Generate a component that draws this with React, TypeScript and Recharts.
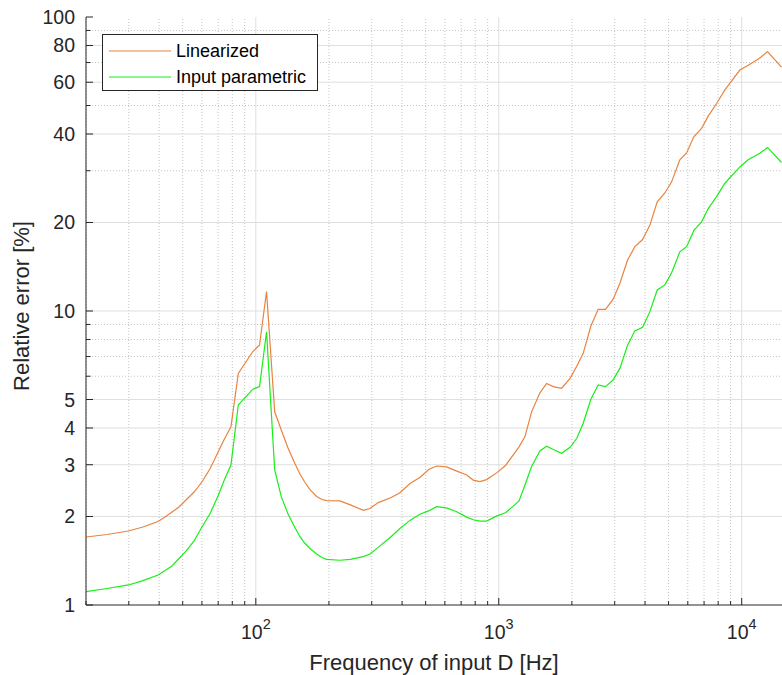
import {
  Legend,
  Line,
  LineChart,
  ReferenceLine,
  XAxis,
  YAxis,
} from "recharts";

const freqs = [
  20, 24.4, 29.9, 34.3, 39.6, 42.3, 45.2, 48.3, 51.6, 55.7, 60, 64.7, 69.9,
  73.9, 79, 84.7, 97.2, 103.6, 110.7, 119.6, 127.3, 135.7, 144.5, 152, 158.9,
  167.1, 178, 187.2, 195.8, 222, 245, 277, 295, 319, 361, 392, 431, 475, 515,
  555, 609, 668, 738, 785, 836, 891, 983, 1066, 1147, 1212, 1282, 1365, 1477,
  1574, 1676, 1814, 1966, 2096, 2226, 2394, 2566, 2751, 2958, 3150, 3390, 3632,
  3908, 4189, 4490, 4828, 5146, 5564, 5931, 6357, 6838, 7280, 7880, 8527, 9826,
  10635, 11880, 12770, 14580,
];

const linearized = [
  1.703, 1.737, 1.785, 1.842, 1.923, 1.992, 2.072, 2.154, 2.276, 2.423, 2.62,
  2.9, 3.31, 3.64, 4.04, 6.13, 7.28, 7.66, 11.65, 4.54, 3.94, 3.42, 3.04, 2.79,
  2.62, 2.47, 2.34, 2.285, 2.264, 2.26, 2.19, 2.1, 2.13, 2.23, 2.32, 2.41, 2.59,
  2.72, 2.89, 2.97, 2.95, 2.86, 2.77, 2.66, 2.63, 2.67, 2.82, 2.98, 3.24, 3.45,
  3.74, 4.54, 5.27, 5.67, 5.53, 5.46, 5.9, 6.5, 7.18, 8.89, 10.13, 10.13, 10.97,
  12.4, 14.9, 16.55, 17.5, 19.6, 23.5, 25.2, 27.5, 32.7, 34.5, 39.2, 41.8, 46.0,
  50.8, 56.5, 66.0, 68.5, 72.5, 76.3, 67.5,
];

const inputParametric = [
  1.11, 1.138, 1.17, 1.211, 1.265, 1.31, 1.357, 1.439, 1.526, 1.651, 1.842,
  2.039, 2.348, 2.641, 2.994, 4.79, 5.42, 5.53, 8.5, 2.88, 2.336, 2.039, 1.842,
  1.707, 1.625, 1.557, 1.491, 1.451, 1.43, 1.42, 1.43, 1.46, 1.49, 1.57, 1.71,
  1.82, 1.94, 2.04, 2.09, 2.16, 2.14, 2.08, 1.99, 1.95, 1.93, 1.93, 2.01, 2.06,
  2.17, 2.26, 2.56, 2.96, 3.34, 3.47, 3.38, 3.28, 3.44, 3.69, 4.15, 5.01, 5.6,
  5.53, 5.83, 6.38, 7.65, 8.56, 8.8, 9.95, 11.79, 12.27, 13.5, 15.9, 16.55,
  18.8, 20.1, 22.3, 24.5, 27.2, 30.9, 32.7, 34.4, 36.0, 32.0,
];

const seriesNames = ["Linearized", "Input parametric"];

const xMajor = [100, 1000, 10000];
const xMinor = [
  20, 30, 40, 50, 60, 70, 80, 90, 200, 300, 400, 500, 600, 700, 800, 900, 2000,
  3000, 4000, 5000, 6000, 7000, 8000, 9000,
];
const yMajor = [1, 2, 3, 4, 5, 10, 20, 40, 60, 80, 100];
const yMinor = [6, 7, 8, 9, 30, 50, 70, 90];

const data = freqs.map((f, i) => ({
  f,
  lin: linearized[i],
  par: inputParametric[i],
}));

const FONT = "'Liberation Sans', Arial, Helvetica, sans-serif";
const INK = "#262626";
const PLOT_TOP = 17;

const XTick = ({ x, y, payload }: any) => {
  const v = payload.value;
  const major = xMajor.includes(v);
  return (
    <g>
      <line x1={x} y1={y} x2={x} y2={y - (major ? 7 : 4)} stroke={INK} />
      {major && (
        <text
          x={x}
          y={y + 34}
          textAnchor="middle"
          fontSize={19.5}
          fill={INK}
          fontFamily={FONT}
        >
          10
          <tspan dy={-10} fontSize={14.5}>
            {Math.round(Math.log10(v))}
          </tspan>
        </text>
      )}
    </g>
  );
};

const TopTick = ({ x, payload }: any) => {
  const major = xMajor.includes(payload.value);
  return (
    <line
      x1={x}
      y1={PLOT_TOP}
      x2={x}
      y2={PLOT_TOP + (major ? 7 : 4)}
      stroke={INK}
    />
  );
};

const YTick = ({ x, y, payload }: any) => {
  const v = payload.value;
  const major = yMajor.includes(v);
  return (
    <g>
      <line x1={x} y1={y} x2={x + (major ? 7 : 4.5)} y2={y} stroke={INK} />
      {major && (
        <text
          x={x - 11}
          y={y + 7}
          textAnchor="end"
          fontSize={19.5}
          fill={INK}
          fontFamily={FONT}
        >
          {v}
        </text>
      )}
    </g>
  );
};

const LegendBox = ({ payload }: any) => {
  const items = [...(payload || [])].sort(
    (a: any, b: any) => seriesNames.indexOf(a.value) - seriesNames.indexOf(b.value)
  );
  return (
    <div
      style={{
        position: "relative",
        width: 216,
        height: 57,
        boxSizing: "border-box",
        border: `1px solid ${INK}`,
        background: "#fff",
        fontFamily: FONT,
        fontSize: 18,
        color: "#000",
      }}
    >
      {items.map((entry: any, i: number) => (
        <div
          key={entry.value}
          style={{
            position: "absolute",
            left: 6,
            top: 5 + i * 26,
            height: 22,
            display: "flex",
            alignItems: "center",
            whiteSpace: "nowrap",
          }}
        >
          <svg width={62} height={4} style={{ marginRight: 5 }}>
            <line
              x1={0}
              y1={2}
              x2={62}
              y2={2}
              stroke={entry.color}
              strokeWidth={1.2}
            />
          </svg>
          <span>{entry.value}</span>
        </div>
      ))}
    </div>
  );
};

export default function App() {
  return (
    <div style={{ position: "absolute", left: 0, top: 0, background: "#fff" }}>
      <LineChart
        width={782}
        height={675}
        data={data}
        margin={{ top: PLOT_TOP, right: 0, bottom: 0, left: 0 }}
      >
        <XAxis
          dataKey="f"
          type="number"
          scale="log"
          domain={[20, 14650]}
          allowDataOverflow
          ticks={[...xMinor, ...xMajor].sort((a, b) => a - b)}
          interval={0}
          height={70}
          tickSize={0}
          tickMargin={0}
          tickLine={false}
          tick={<XTick />}
          axisLine={{ stroke: INK }}
          label={{
            value: "Frequency of input D [Hz]",
            position: "insideBottom",
            offset: 5,
            fontSize: 22,
            fill: INK,
            fontFamily: FONT,
          }}
        />
        <XAxis
          xAxisId="top"
          orientation="top"
          dataKey="f"
          type="number"
          scale="log"
          domain={[20, 14650]}
          allowDataOverflow
          ticks={[...xMinor, ...xMajor].sort((a, b) => a - b)}
          interval={0}
          height={0}
          tickSize={0}
          tickMargin={0}
          tickLine={false}
          tick={<TopTick />}
          axisLine={{ stroke: INK }}
        />
        <YAxis
          type="number"
          scale="log"
          domain={[1, 100]}
          allowDataOverflow
          ticks={[...yMajor, ...yMinor].sort((a, b) => a - b)}
          interval={0}
          width={86}
          tickSize={0}
          tickMargin={0}
          tickLine={false}
          tick={<YTick />}
          axisLine={{ stroke: INK }}
          label={{
            content: () => (
              <text
                x={29}
                y={306}
                transform="rotate(-90 29 306)"
                textAnchor="middle"
                fontSize={22}
                fill={INK}
                fontFamily={FONT}
              >
                Relative error [%]
              </text>
            ),
          }}
        />
        {xMinor.map((v) => (
          <ReferenceLine
            key={`xm${v}`}
            x={v}
            stroke="#c4c4c4"
            strokeDasharray="1 2"
          />
        ))}
        {yMinor.map((v) => (
          <ReferenceLine
            key={`ym${v}`}
            y={v}
            stroke="#c4c4c4"
            strokeDasharray="1 2"
          />
        ))}
        {xMajor.map((v) => (
          <ReferenceLine key={`xM${v}`} x={v} stroke="#dfdfdf" />
        ))}
        {yMajor
          .filter((v) => v > 1 && v < 100)
          .map((v) => (
            <ReferenceLine key={`yM${v}`} y={v} stroke="#dfdfdf" />
          ))}
        <Legend
          layout="vertical"
          align="center"
          verticalAlign="middle"
          content={<LegendBox />}
          wrapperStyle={{ left: 102, top: 34, width: 216, height: 57 }}
        />
        <Line
          dataKey="lin"
          name="Linearized"
          stroke="#E9833F"
          strokeWidth={1.2}
          dot={false}
          isAnimationActive={false}
        />
        <Line
          dataKey="par"
          name="Input parametric"
          stroke="#18EE18"
          strokeWidth={1.2}
          dot={false}
          isAnimationActive={false}
        />
      </LineChart>
    </div>
  );
}
